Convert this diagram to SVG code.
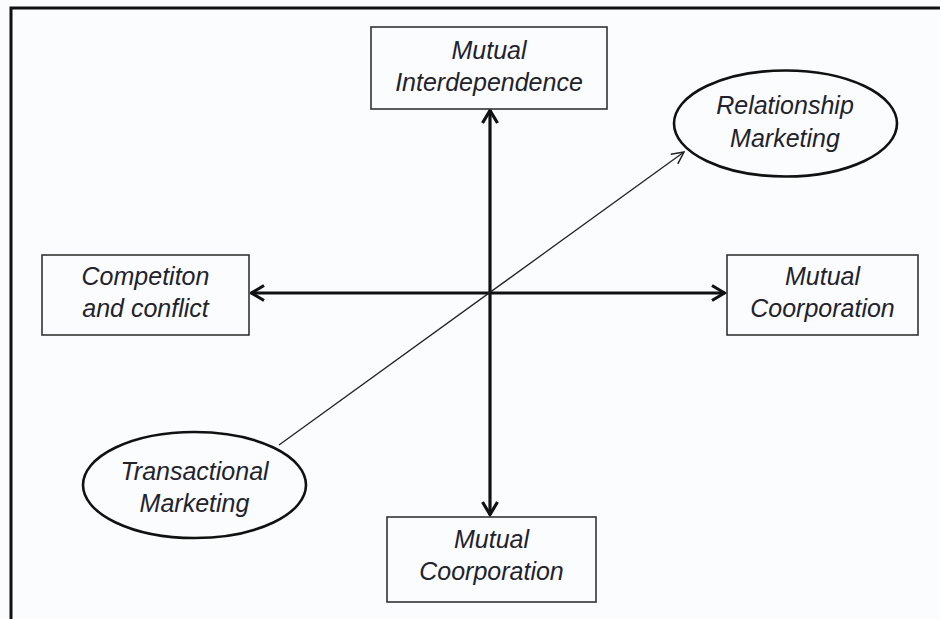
<svg xmlns="http://www.w3.org/2000/svg" width="940" height="619" viewBox="0 0 940 619">
<defs>
<style>
.t{font-family:"Liberation Sans",Arial,sans-serif;font-style:italic;font-size:25px;fill:#22222c;text-anchor:middle}
.box{fill:#fbfcfe;stroke:#333;stroke-width:1.6}
.ell{fill:#fbfcfe;stroke:#111;stroke-width:2.6}
.thick{stroke:#111;stroke-width:3.2;fill:none}
.thin{stroke:#222;stroke-width:1.3;fill:none}
</style>
<marker id="ah" viewBox="0 0 16 18" refX="14.5" refY="9" markerWidth="16" markerHeight="18" markerUnits="userSpaceOnUse" orient="auto">
<path d="M1.5,1.5 L14,9 L1.5,16.5" fill="none" stroke="#111" stroke-width="3.2"/>
</marker>
<marker id="ahs" viewBox="0 0 14 14" refX="13" refY="7" markerWidth="14" markerHeight="14" markerUnits="userSpaceOnUse" orient="auto">
<path d="M1,1 L13,7 L1,13" fill="none" stroke="#222" stroke-width="1.5"/>
</marker>
</defs>
<rect x="0" y="0" width="940" height="619" fill="#fbfcfe"/>
<rect x="11" y="8" width="940" height="640" fill="none" stroke="#111" stroke-width="3"/>
<g id="connectors">
<line class="thick" x1="490" y1="293" x2="490" y2="110" marker-end="url(#ah)"/>
<line class="thick" x1="490" y1="293" x2="490" y2="515" marker-end="url(#ah)"/>
<line class="thick" x1="490" y1="293" x2="251" y2="293" marker-end="url(#ah)"/>
<line class="thick" x1="490" y1="293" x2="725" y2="293" marker-end="url(#ah)"/>
<line class="thin" x1="279" y1="445" x2="684" y2="152" marker-end="url(#ahs)"/>
</g>
<g id="mutual-interdependence">
<rect class="box" x="371" y="27" width="236" height="82"/>
<text class="t" x="489" y="59">Mutual</text>
<text class="t" x="489" y="91">Interdependence</text>
</g>
<g id="relationship-marketing">
<ellipse class="ell" cx="785.5" cy="123.5" rx="111.5" ry="53"/>
<text class="t" x="785" y="114">Relationship</text>
<text class="t" x="785" y="147">Marketing</text>
</g>
<g id="competition-conflict">
<rect class="box" x="42" y="255" width="207" height="80"/>
<text class="t" x="145.5" y="285">Competiton</text>
<text class="t" x="145.5" y="317">and conflict</text>
</g>
<g id="mutual-coorporation-right">
<rect class="box" x="727" y="255" width="191" height="80"/>
<text class="t" x="822.5" y="285">Mutual</text>
<text class="t" x="822.5" y="317">Coorporation</text>
</g>
<g id="transactional-marketing">
<ellipse class="ell" cx="194.5" cy="485" rx="111.5" ry="53"/>
<text class="t" x="194.5" y="480">Transactional</text>
<text class="t" x="194.5" y="512">Marketing</text>
</g>
<g id="mutual-coorporation-bottom">
<rect class="box" x="387" y="517" width="209" height="85"/>
<text class="t" x="491.5" y="548">Mutual</text>
<text class="t" x="491.5" y="580">Coorporation</text>
</g>
</svg>
